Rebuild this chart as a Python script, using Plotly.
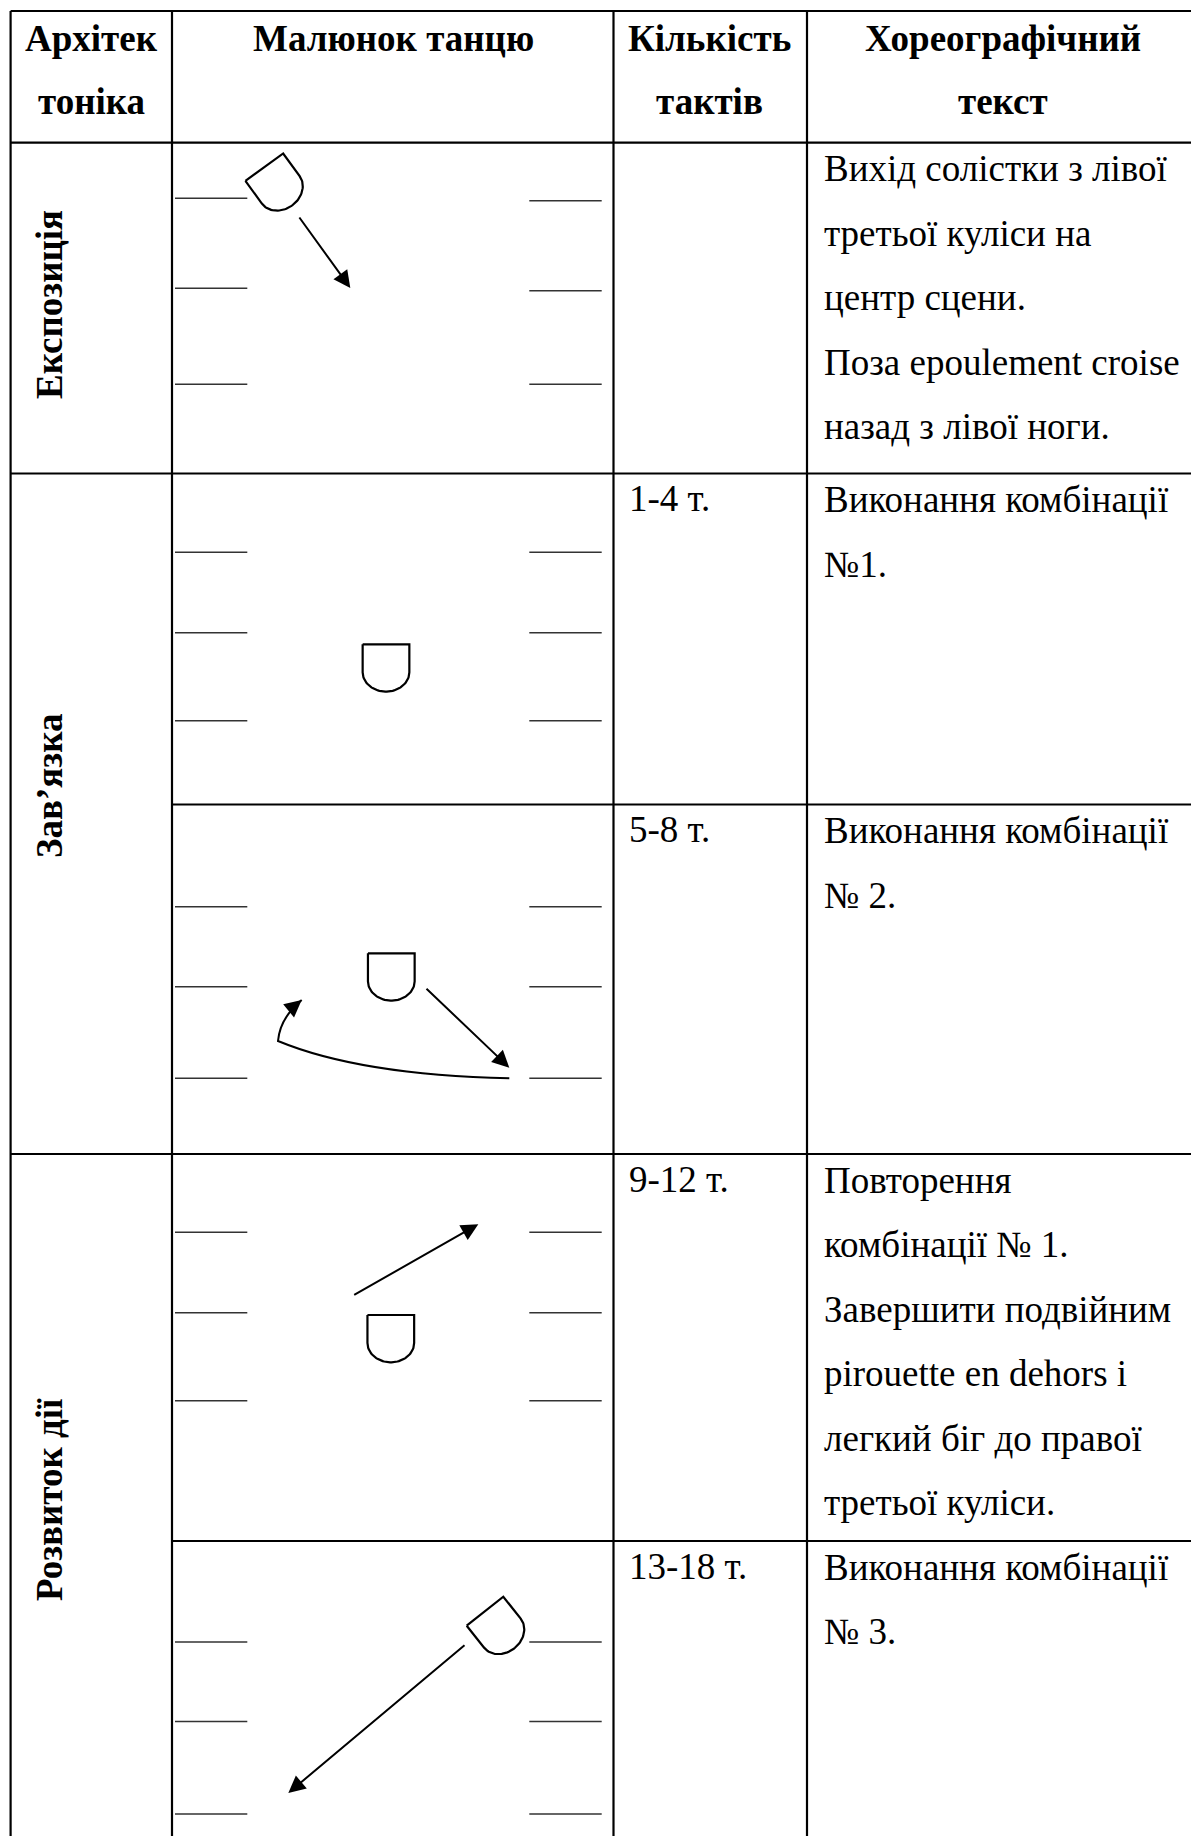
import numpy as np
import plotly.graph_objects as go

# ---------------- content ----------------
header_col1 = ["Архітек", "тоніка"]
header_col2 = ["Малюнок танцю"]
header_col3 = ["Кількість", "тактів"]
header_col4 = ["Хореографічний", "текст"]

section_names = ["Експозиція", "Зав\u2019язка", "Розвиток дії"]
section_center_y = [305, 786, 1500]

bars_text = ["", "1-4 т.", "5-8 т.", "9-12 т.", "13-18 т."]
choreo_text = [
    ["Вихід солістки з лівої", "третьої куліси на", "центр сцени.",
     "Поза epoulement croise", "назад з лівої ноги."],
    ["Виконання комбінації", "№1."],
    ["Виконання комбінації", "№ 2."],
    ["Повторення", "комбінації № 1.", "Завершити подвійним",
     "pirouette en dehors і", "легкий біг до правої", "третьої куліси."],
    ["Виконання комбінації", "№ 3."],
]

# ---------------- table grid ----------------
col_x = [10.6, 172.0, 613.5, 807.0]
right_x = 1195.0
top_y = 11.0
cell_tops = [142.7, 473.5, 804.5, 1154.0, 1541.0]
full_lines = [11.0, 142.7, 473.5, 1154.0]
sub_lines = [804.5, 1541.0]
bottom_y = 1840.0

# ---------------- stage drawings ----------------
wings_left_y = [[198.3, 288.3, 384.3], [552.3, 632.7, 720.7], [906.7, 986.7, 1078.3],
                [1232.3, 1312.7, 1400.7], [1642.0, 1721.5, 1814.0]]
wings_right_y = [[200.7, 290.7, 384.3], [552.3, 632.7, 720.7], [906.7, 986.7, 1078.3],
                 [1232.3, 1312.7, 1400.7], [1642.0, 1721.5, 1814.0]]
wing_left_x = [175.0, 247.3]
wing_right_x = [529.3, 601.7]

dancer_x = [264.3, 386.0, 391.3, 390.8, 485.0]
dancer_y = [167.2, 644.3, 953.3, 1315.0, 1611.2]
dancer_angle = [-36.0, 0.0, 0.0, 0.0, -38.4]

arrow_tail_x = [298.3, 425.0, 352.7, 466.0]
arrow_tail_y = [216.0, 987.3, 1295.7, 1644.0]
arrow_head_x = [350.3, 509.3, 478.3, 288.3]
arrow_head_y = [288.0, 1067.7, 1224.3, 1793.0]

curve_pts_x = [509.3, 360.0, 278.0, 280.0, 301.7]
curve_pts_y = [1078.3, 1075.0, 1041.0, 1018.0, 1000.0]

FONT = "Liberation Serif"
FS = 37

fig = go.Figure()

LW_GRID = 2.2
shapes = []
for y in full_lines:
    shapes.append(dict(type="line", xref="x", yref="y", x0=col_x[0], x1=right_x,
                       y0=y, y1=y, line=dict(color="black", width=LW_GRID)))
for y in sub_lines:
    shapes.append(dict(type="line", xref="x", yref="y", x0=col_x[1], x1=right_x,
                       y0=y, y1=y, line=dict(color="black", width=LW_GRID)))
for x in col_x:
    shapes.append(dict(type="line", xref="x", yref="y", x0=x, x1=x,
                       y0=top_y, y1=bottom_y, line=dict(color="black", width=LW_GRID)))

for ly, ry in zip(wings_left_y, wings_right_y):
    for y in ly:
        shapes.append(dict(type="line", xref="x", yref="y", x0=wing_left_x[0], x1=wing_left_x[1],
                           y0=y, y1=y, line=dict(color="#333333", width=1.6)))
    for y in ry:
        shapes.append(dict(type="line", xref="x", yref="y", x0=wing_right_x[0], x1=wing_right_x[1],
                           y0=y, y1=y, line=dict(color="#333333", width=1.6)))

px, py = curve_pts_x, curve_pts_y
path = (f"M {px[0]},{py[0]} Q {px[1]},{py[1]} {px[2]},{py[2]} "
        f"Q {px[3]},{py[3]} {px[4]},{py[4]}")
shapes.append(dict(type="path", xref="x", yref="y", path=path,
                   line=dict(color="black", width=2)))


def d_shape(cx, cy, ang, w=46.7, s=28.0, ry=19.3):
    t = np.linspace(0, np.pi, 50)
    lx = np.concatenate([[-w / 2, w / 2, w / 2], (w / 2) * np.cos(t), [-w / 2]])
    ly = np.concatenate([[0, 0, s], s + ry * np.sin(t), [0]])
    a = np.deg2rad(ang)
    ux, uy = np.cos(a), np.sin(a)
    vx, vy = -np.sin(a), np.cos(a)
    return cx + lx * ux + ly * vx, cy + lx * uy + ly * vy


for cx, cy, ang in zip(dancer_x, dancer_y, dancer_angle):
    xs, ys = d_shape(cx, cy, ang)
    fig.add_trace(go.Scatter(x=xs, y=ys, mode="lines", line=dict(color="black", width=2.2),
                             hoverinfo="skip", showlegend=False))

annotations = []
for tx, ty, hx, hy in zip(arrow_tail_x, arrow_tail_y, arrow_head_x, arrow_head_y):
    annotations.append(dict(x=hx, y=hy, ax=tx, ay=ty, xref="x", yref="y", axref="x", ayref="y",
                            text="", showarrow=True, arrowhead=2, arrowsize=1.7, arrowwidth=2,
                            arrowcolor="black", standoff=0))
dx, dy = px[4] - px[3], py[4] - py[3]
n = np.hypot(dx, dy)
annotations.append(dict(x=px[4], y=py[4], ax=px[4] - 8 * dx / n, ay=py[4] - 8 * dy / n,
                        xref="x", yref="y", axref="x", ayref="y", text="", showarrow=True,
                        arrowhead=2, arrowsize=1.7, arrowwidth=2, arrowcolor="black", standoff=0))

LINE_STEP = 64.5
FIRST = 26.0


def txt(x, y, s, anchor="left", bold=False):
    annotations.append(dict(x=x, y=y, xref="x", yref="y", text=(f"<b>{s}</b>" if bold else s),
                            showarrow=False, xanchor=anchor, yanchor="middle",
                            font=dict(family=FONT, size=FS, color="black")))


for cx, lines in zip([91.0, 393.0, 709.0, 1003.0], [header_col1, header_col2, header_col3, header_col4]):
    for i, s in enumerate(lines):
        txt(cx, top_y + 27.0 + i * 63.0, s, anchor="center", bold=True)

for top, bt, lines in zip(cell_tops, bars_text, choreo_text):
    if bt:
        txt(627.0, top + FIRST - 1.0, bt)
    for i, s in enumerate(lines):
        txt(822.0, top + FIRST + i * LINE_STEP, s)

for name, cy in zip(section_names, section_center_y):
    annotations.append(dict(x=49.0, y=cy, xref="x", yref="y", text=f"<b>{name}</b>",
                            showarrow=False, textangle=-90, xanchor="center", yanchor="middle",
                            font=dict(family=FONT, size=FS, color="black")))

fig.update_layout(
    width=1191, height=1836,
    margin=dict(l=0, r=0, t=0, b=0),
    paper_bgcolor="white", plot_bgcolor="white",
    xaxis=dict(range=[0, 1191], visible=False, fixedrange=True),
    yaxis=dict(range=[1836, 0], visible=False, fixedrange=True),
    shapes=shapes, annotations=annotations, showlegend=False,
)

fig.write_html("out.html", config={"displayModeBar": False},
               post_script="document.body.style.margin='0';document.body.style.overflow='hidden';")
